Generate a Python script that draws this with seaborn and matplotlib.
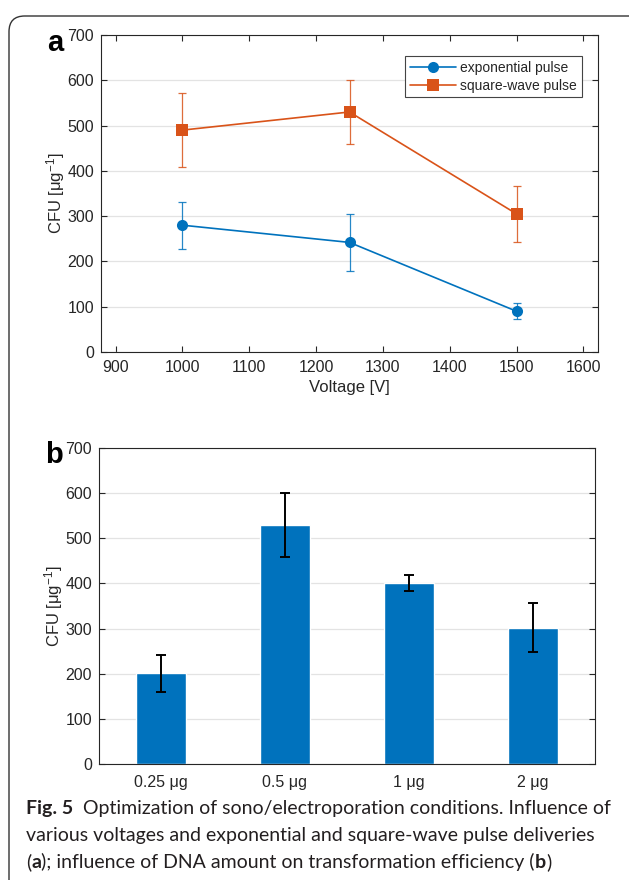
import numpy as np
import pandas as pd
import matplotlib
matplotlib.use("Agg")
import matplotlib.pyplot as plt
import seaborn as sns
from matplotlib.patches import FancyBboxPatch

# panel a data
voltages = [1000, 1250, 1500]
exp_cfu = [280, 242, 90]
exp_err = [52, 63, 18]
sq_cfu = [490, 530, 305]
sq_err = [81, 71, 61]
pulse_names = ["exponential pulse", "square-wave pulse"]

# panel b data
dna_labels = ["0.25 μg", "0.5 μg", "1 μg", "2 μg"]
dna_cfu = [201, 530, 401, 302]
dna_err = [41, 71, 18, 54]

BLUE = "#0072BD"
ORANGE = "#D95319"
AXCOL = "#262626"

sns.set_theme(style="white")
plt.rcParams["font.family"] = ["Liberation Sans", "DejaVu Sans"]
plt.rcParams["mathtext.fontset"] = "custom"
plt.rcParams["mathtext.rm"] = "Liberation Sans"
plt.rcParams["mathtext.it"] = "Liberation Sans"

fig = plt.figure(figsize=(6.29, 8.80), dpi=100)
W, H = 629, 880

# rounded frame around the figure
frame = FancyBboxPatch((9 / W, -0.05), 640 / W, 1 - 16 / H + 0.05,
                       boxstyle="round,pad=0,rounding_size=0.025",
                       transform=fig.transFigure, fill=False,
                       edgecolor="#333333", linewidth=1.0, mutation_aspect=W / H)
fig.patches.append(frame)


def style_axes(ax):
    for s in ax.spines.values():
        s.set_color(AXCOL)
        s.set_linewidth(0.8)
        s.set_visible(True)
    ax.tick_params(direction="in", length=4, width=0.8, color=AXCOL,
                   labelsize=11.5, labelcolor=AXCOL, top=True, right=True,
                   bottom=True, left=True, pad=5)
    ax.yaxis.grid(True, color="#e3e3e3", linewidth=0.9)
    ax.xaxis.grid(False)
    ax.set_axisbelow(True)


# ---------------- panel a ----------------
axa = fig.add_axes([101 / W, 1 - 352 / H, 497 / W, 317 / H])
df_a = pd.DataFrame({
    "Voltage": voltages * 2,
    "CFU": exp_cfu + sq_cfu,
    "pulse": [pulse_names[0]] * 3 + [pulse_names[1]] * 3,
})
sns.lineplot(data=df_a, x="Voltage", y="CFU", hue="pulse", style="pulse",
             palette=[BLUE, ORANGE], markers=["o", "s"], dashes=False,
             markersize=8, linewidth=1.2, markeredgewidth=0, ax=axa)
axa.errorbar(voltages, exp_cfu, yerr=exp_err, fmt="none", ecolor=BLUE,
             elinewidth=0.9, capsize=3, capthick=0.9, alpha=0.85)
axa.errorbar(voltages, sq_cfu, yerr=sq_err, fmt="none", ecolor=ORANGE,
             elinewidth=0.9, capsize=3, capthick=0.9, alpha=0.85)
axa.set_xlim(878, 1622)
axa.set_ylim(0, 700)
axa.set_xticks(range(900, 1601, 100))
axa.set_yticks(range(0, 701, 100))
axa.set_xlabel("Voltage [V]", fontsize=12, color=AXCOL, labelpad=3)
axa.set_ylabel("CFU [μg$^{-1}$]", fontsize=12, color=AXCOL, labelpad=0)
style_axes(axa)
axa.tick_params(axis="x", pad=6)
leg = axa.legend(loc="upper right", bbox_to_anchor=(0.982, 0.955), fontsize=10,
                 frameon=True, fancybox=False, framealpha=1, edgecolor="#444444",
                 handlelength=3.3, handletextpad=0.35, borderpad=0.35,
                 labelspacing=0.25, title=None)
leg.get_frame().set_linewidth(0.8)
fig.text(47 / W, 1 - 43 / H, "a", fontsize=21, fontweight="bold",
         va="center", ha="left", color="black")

# ---------------- panel b ----------------
axb = fig.add_axes([99 / W, 1 - 764 / H, 496 / W, 316 / H])
sns.barplot(x=dna_labels, y=dna_cfu, color=BLUE, saturation=1, width=0.4,
            errorbar=None, ax=axb)
axb.errorbar(range(len(dna_labels)), dna_cfu, yerr=dna_err, fmt="none",
             ecolor="black", elinewidth=1.4, capsize=3.5, capthick=1.4)
axb.set_xlim(-0.5, 3.5)
axb.set_ylim(0, 700)
axb.set_yticks(range(0, 701, 100))
axb.set_xlabel("")
axb.set_ylabel("CFU [μg$^{-1}$]", fontsize=12, color=AXCOL, labelpad=0)
style_axes(axb)
axb.tick_params(axis="x", length=0, pad=8)
fig.text(45 / W, 1 - 455 / H, "b", fontsize=21, fontweight="bold",
         va="center", ha="left", color="black")

# ---------------- caption ----------------
cap_font = ["Lato", "DejaVu Sans"]
cap_size = 14
caption = [
    [("Fig. 5", "bold"), ("  Optimization of sono/electroporation conditions. Influence of", "normal")],
    [("various voltages and exponential and square-wave pulse deliveries", "normal")],
    [("(", "normal"), ("a", "bold"), ("); influence of DNA amount on transformation efficiency (", "normal"),
     ("b", "bold"), (")", "normal")],
]
line_y = [808, 835, 862]
fig.canvas.draw()
renderer = fig.canvas.get_renderer()
for runs, yy in zip(caption, line_y):
    x = 26 / W
    for txt, wt in runs:
        t = fig.text(x, 1 - yy / H, txt, fontsize=cap_size, fontweight=wt,
                     family=cap_font, va="center", ha="left", color="#231f20")
        bb = t.get_window_extent(renderer=renderer)
        x += bb.width / fig.bbox.width

fig.savefig("out.png", dpi=100)
